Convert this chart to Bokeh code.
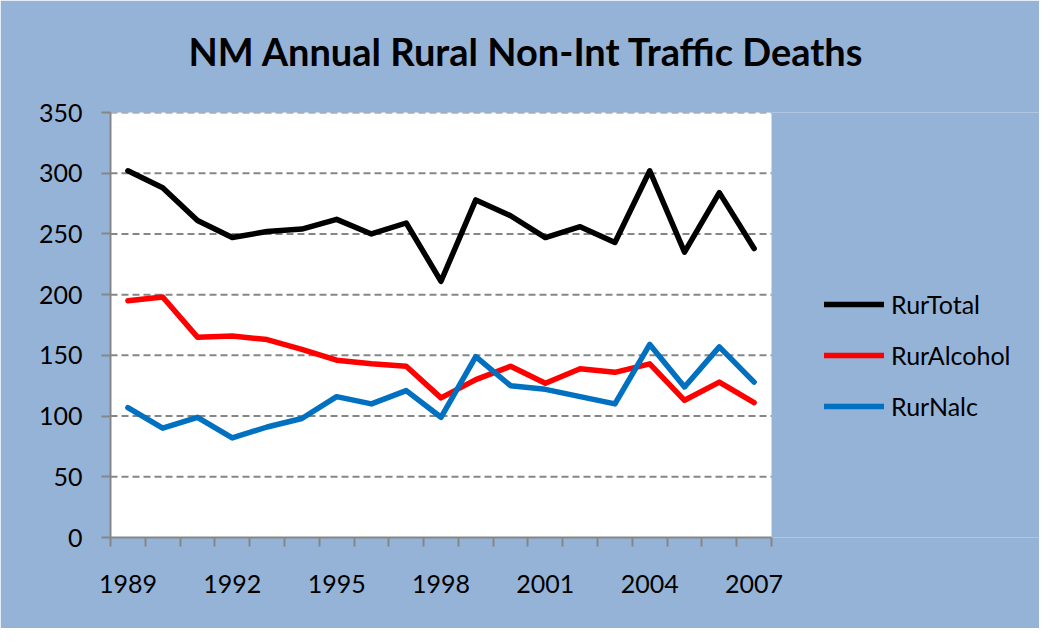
from bokeh.plotting import figure
from bokeh.models import (Range1d, FixedTicker, Legend, LegendItem, Title, BoxAnnotation)
from bokeh.embed import file_html
from bokeh.resources import INLINE

# ---- data ----
years = list(range(1989, 2008))
rur_total = [302, 288, 261, 247, 252, 254, 262, 250, 259, 211,
             278, 265, 247, 256, 243, 302, 235, 284, 238]
rur_alcohol = [195, 198, 165, 166, 163, 155, 146, 143, 141, 115,
               130, 141, 127, 139, 136, 143, 113, 128, 111]
rur_nalc = [107, 90, 99, 82, 91, 98, 116, 110, 121, 99,
            149, 125, 122, 116, 110, 159, 124, 157, 128]
series_names = ["RurTotal", "RurAlcohol", "RurNalc"]
series_colors = ["#000000", "#FF0000", "#0070C0"]
year_labels = [1989, 1992, 1995, 1998, 2001, 2004, 2007]
y_ticks = [0, 50, 100, 150, 200, 250, 300, 350]

BG = "#95B3D7"
GRAY = "#868686"
FONT = "Lato"

# layout (pixels)
W, H = 1039, 628
LEFT, TOP, BOTTOM_B, RIGHT_B = 110, 112, 91, 0
PLOT_W = 661                      # width of the white plotting area
FRAME_W = W - LEFT - RIGHT_B      # frame extends under the legend

x0 = years[0] - 0.5
x1 = years[-1] + 0.5
x_end = x0 + (x1 - x0) * FRAME_W / PLOT_W

p = figure(width=W, height=H, output_backend="svg", toolbar_location=None,
           x_range=Range1d(x0, x_end), y_range=Range1d(0, y_ticks[-1]),
           min_border_left=LEFT, min_border_right=RIGHT_B,
           min_border_top=TOP, min_border_bottom=BOTTOM_B)
p.title = None
p.background_fill_color = BG
p.border_fill_color = BG
p.outline_line_color = None
p.grid.visible = False

# white plotting area
plot_area = BoxAnnotation(left=x0, right=x1, bottom=0, top=y_ticks[-1],
                          fill_color="white", fill_alpha=1, line_color=None,
                          level="underlay")
p.add_layout(plot_area)

# spacer (closest to the frame), then the real title above it
p.add_layout(Title(text=" ", text_font_size="2px", standoff=30,
                   text_color=BG), "above")
title = Title(text="NM Annual Rural Non-Int Traffic Deaths", align="left",
              offset=78, text_font=FONT, text_font_size="38px",
              text_font_style="bold", text_color="black", standoff=10)
p.add_layout(title, "above")

# axes
xa = p.xaxis[0]
xa.bounds = (x0, x1)
xa.ticker = FixedTicker(ticks=year_labels,
                        minor_ticks=[y - 0.5 for y in years] + [x1])
xa.major_tick_out = 0
xa.major_tick_in = 0
xa.minor_tick_out = 9
xa.minor_tick_in = 0
xa.minor_tick_line_color = GRAY
xa.minor_tick_line_width = 2
xa.axis_line_color = GRAY
xa.axis_line_width = 2
xa.major_label_text_font = FONT
xa.major_label_text_font_size = "25px"
xa.major_label_text_color = "black"
xa.major_label_standoff = 28

ya = p.yaxis[0]
ya.ticker = FixedTicker(ticks=y_ticks, minor_ticks=[])
ya.major_tick_out = 9
ya.major_tick_in = 0
ya.major_tick_line_color = GRAY
ya.major_tick_line_width = 2
ya.axis_line_color = GRAY
ya.axis_line_width = 2
ya.major_label_text_font = FONT
ya.major_label_text_font_size = "25px"
ya.major_label_text_color = "black"
ya.major_label_standoff = 19

# dashed horizontal gridlines across the plotting area only
grid_y = y_ticks[1:]
p.segment(x0=[x0] * len(grid_y), y0=grid_y, x1=[x1] * len(grid_y), y1=grid_y,
          line_color=GRAY, line_width=2, line_dash="7 4")

items = []
for name, vals, col in zip(series_names, [rur_total, rur_alcohol, rur_nalc], series_colors):
    r = p.line(years, vals, line_color=col, line_width=5.5, line_join="round", line_cap="round")
    items.append(LegendItem(label=name, renderers=[r]))

legend = Legend(items=items, location=(714, 116), orientation="vertical",
                glyph_width=60, glyph_height=30, label_height=30,
                label_standoff=7, spacing=21, padding=0, margin=0,
                border_line_color=None, background_fill_alpha=0,
                label_text_font=FONT, label_text_font_size="25px",
                label_text_color="black")
p.add_layout(legend, "center")

open("out.html", "w").write(file_html(p, INLINE))
